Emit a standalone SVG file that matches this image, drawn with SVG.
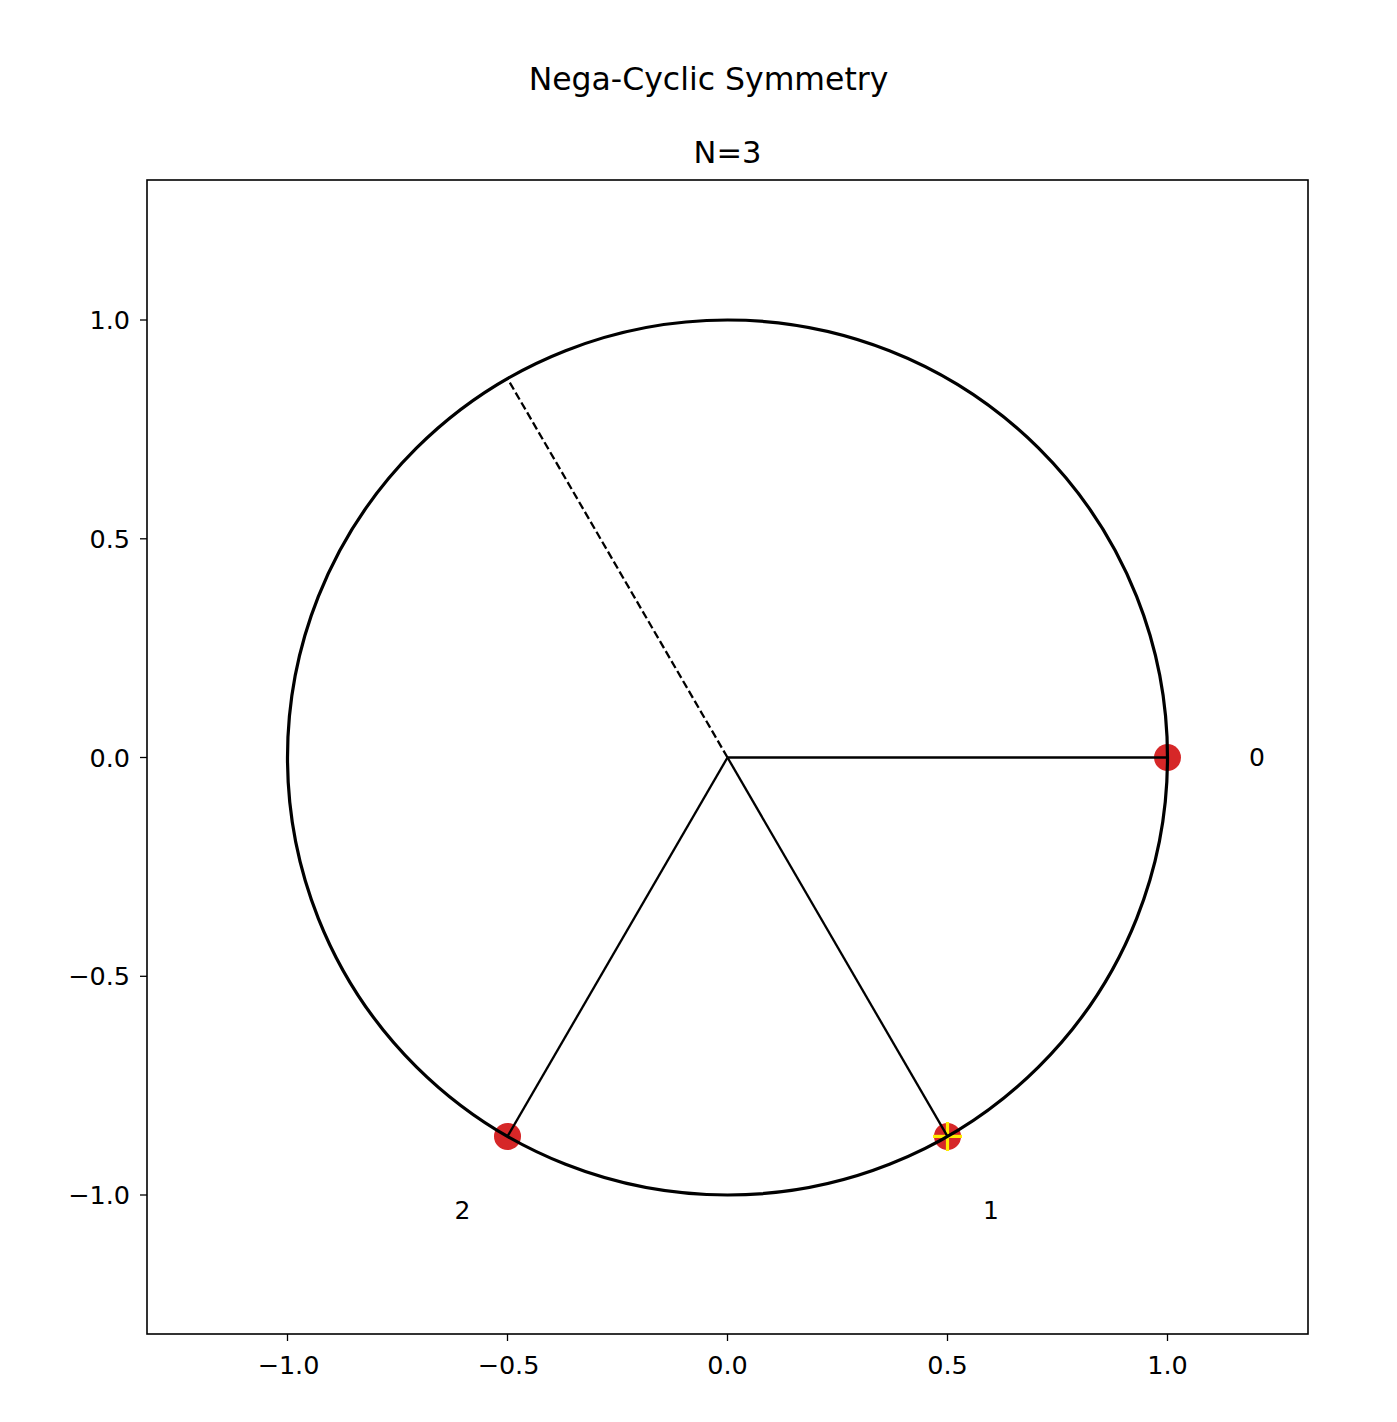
<svg xmlns="http://www.w3.org/2000/svg" width="1397" height="1422" viewBox="0 0 1397 1422">
<style>
text{font-family:"DejaVu Sans","Liberation Sans",sans-serif;fill:#000}
.tk{font-size:25.5px}
.lab{font-size:25px;text-anchor:middle}
.tick{stroke:#000;stroke-width:1.3}
.pt{fill:#d62728}
.spoke{stroke:#000;stroke-width:2.3;fill:none}
</style>
<rect width="1397" height="1422" fill="#fff"/>
<text x="708.5" y="89.5" font-size="31.5" text-anchor="middle">Nega-Cyclic Symmetry</text>
<text x="727.5" y="163" font-size="30.5" text-anchor="middle">N=3</text>
<g id="axes">
<rect x="147" y="180" width="1161" height="1154" fill="none" stroke="#000" stroke-width="1.6"/>
<g class="tick">
<line x1="287.5" y1="1334" x2="287.5" y2="1341"/>
<line x1="507.5" y1="1334" x2="507.5" y2="1341"/>
<line x1="727.5" y1="1334" x2="727.5" y2="1341"/>
<line x1="947.5" y1="1334" x2="947.5" y2="1341"/>
<line x1="1167.5" y1="1334" x2="1167.5" y2="1341"/>
<line x1="140" y1="320" x2="147" y2="320"/>
<line x1="140" y1="538.8" x2="147" y2="538.8"/>
<line x1="140" y1="757.5" x2="147" y2="757.5"/>
<line x1="140" y1="976.3" x2="147" y2="976.3"/>
<line x1="140" y1="1195" x2="147" y2="1195"/>
</g>
<g class="tk" text-anchor="middle">
<text x="288.5" y="1373.5">−1.0</text>
<text x="508.5" y="1373.5">−0.5</text>
<text x="727.5" y="1373.5">0.0</text>
<text x="947.5" y="1373.5">0.5</text>
<text x="1167.5" y="1373.5">1.0</text>
</g>
<g class="tk" text-anchor="end">
<text x="130" y="329">1.0</text>
<text x="130" y="547.8">0.5</text>
<text x="130" y="766.5">0.0</text>
<text x="130" y="985.3">−0.5</text>
<text x="130" y="1204">−1.0</text>
</g>
</g>
<g id="node-0">
<circle class="pt" cx="1167.5" cy="757.5" r="13.5"/>
<text class="lab" x="1257" y="766">0</text>
</g>
<g id="node-1">
<circle class="pt" cx="947.5" cy="1136.4" r="13.5"/>
<line x1="933" y1="1136.4" x2="962" y2="1136.4" stroke="#ffeb00" stroke-width="3.2"/>
<line x1="947.5" y1="1122" x2="947.5" y2="1151" stroke="#ffeb00" stroke-width="3.2"/>
<text class="lab" x="991" y="1219">1</text>
</g>
<g id="node-2">
<circle class="pt" cx="507.5" cy="1136.4" r="13.5"/>
<text class="lab" x="462.5" y="1219">2</text>
</g>
<g id="connectors">
<ellipse id="unit-circle" cx="727.5" cy="757.5" rx="440" ry="437.5" stroke="#000" stroke-width="3.2" fill="none"/>
<line class="spoke" x1="727.5" y1="757.5" x2="1167.5" y2="757.5"/>
<line class="spoke" x1="727.5" y1="757.5" x2="947.5" y2="1136.4"/>
<line class="spoke" x1="727.5" y1="757.5" x2="507.5" y2="1136.4"/>
<line class="spoke" x1="727.5" y1="757.5" x2="507.5" y2="378.6" stroke-dasharray="8,3.5"/>
</g>
</svg>
